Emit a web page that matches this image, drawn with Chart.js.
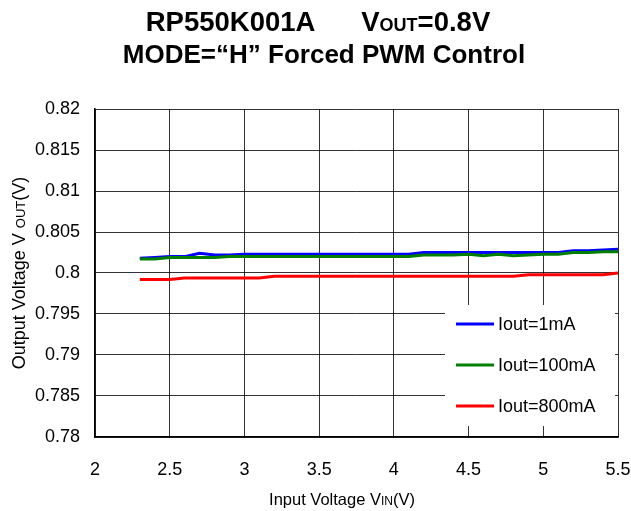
<!DOCTYPE html>
<html>
<head>
<meta charset="utf-8">
<script src="https://cdn.jsdelivr.net/npm/chart.js@4.4.1/dist/chart.umd.min.js"></script>
<style>
  html, body { margin: 0; padding: 0; background: #fff; }
  #wrap { position: relative; width: 631px; height: 511px; }
</style>
</head>
<body>
<div id="wrap"><canvas id="grafica" width="631" height="511"></canvas></div>
<script>
// datos
var vin = [2.3, 2.4, 2.5, 2.6, 2.7, 2.8, 2.9, 3.0, 3.1, 3.2, 3.3, 3.4, 3.5, 3.6, 3.7, 3.8, 3.9, 4.0,
           4.1, 4.2, 4.3, 4.4, 4.5, 4.6, 4.7, 4.8, 4.9, 5.0, 5.1, 5.2, 5.3, 5.4, 5.5];

var iout1mA = [0.8018, 0.8019, 0.8020, 0.8020, 0.8024, 0.8022, 0.8022, 0.8023, 0.8023, 0.8023, 0.8023,
               0.8023, 0.8023, 0.8023, 0.8023, 0.8023, 0.8023, 0.8023, 0.8023, 0.8025, 0.8025, 0.8025,
               0.8025, 0.8025, 0.8025, 0.8025, 0.8025, 0.8025, 0.8025, 0.8027, 0.8027, 0.8028, 0.8029];

var iout100mA = [0.8017, 0.8017, 0.8019, 0.8019, 0.8019, 0.8019, 0.8020, 0.8020, 0.8020, 0.8020, 0.8020,
                 0.8020, 0.8020, 0.8020, 0.8020, 0.8020, 0.8020, 0.8020, 0.8020, 0.8022, 0.8022, 0.8022,
                 0.8023, 0.8021, 0.8023, 0.8021, 0.8022, 0.8023, 0.8023, 0.8025, 0.8025, 0.8026, 0.8026];

var iout800mA = [0.7992, 0.7992, 0.7992, 0.7994, 0.7994, 0.7994, 0.7994, 0.7994, 0.7994, 0.7996, 0.7996,
                 0.7996, 0.7996, 0.7996, 0.7996, 0.7996, 0.7996, 0.7996, 0.7996, 0.7996, 0.7996, 0.7996,
                 0.7996, 0.7996, 0.7996, 0.7996, 0.7998, 0.7998, 0.7998, 0.7998, 0.7998, 0.7998, 0.8000];

var etiquetas = ['Iout=1mA', 'Iout=100mA', 'Iout=800mA'];
var colores = ['#0000ff', '#008000', '#ff0000'];

var xMin = 2, xMax = 5.5, xPaso = 0.5;
var yMin = 0.78, yMax = 0.82, yPaso = 0.005;

var FUENTE = '"Liberation Sans", Arial, sans-serif';

function puntos(ys) {
    return vin.map(function (x, i) { return { x: x, y: ys[i] }; });
}

// dibuja una serie de trozos de texto (normal / subindice) en linea
function textoMixto(ctx, partes, cx, y) {
    var total = 0;
    partes.forEach(function (p) { ctx.font = p.font; total += ctx.measureText(p.t).width; });
    var x = cx - total / 2;
    ctx.textAlign = 'left';
    partes.forEach(function (p) {
        ctx.font = p.font;
        ctx.fillText(p.t, x, y);
        x += ctx.measureText(p.t).width;
    });
}

var textosPlugin = {
    id: 'textos',
    afterDraw: function (chart) {
        var ctx = chart.ctx;
        var area = chart.chartArea;
        ctx.save();
        ctx.fillStyle = '#000';
        ctx.textBaseline = 'alphabetic';

        // titulo
        var tb1 = 'bold 27.5px ' + FUENTE;
        var ts1 = 'bold 18px ' + FUENTE;
        textoMixto(ctx, [
            { t: 'RP550K001A      V', font: tb1 },
            { t: 'OUT', font: ts1 },
            { t: '=0.8V', font: tb1 }
        ], 318, 31);
        textoMixto(ctx, [{ t: 'MODE=\u201cH\u201d Forced PWM Control', font: 'bold 26px ' + FUENTE }], 324, 63);

        // titulo eje x
        textoMixto(ctx, [
            { t: 'Input Voltage V', font: '16.5px ' + FUENTE },
            { t: 'IN', font: '12px ' + FUENTE },
            { t: '(V)', font: '16.5px ' + FUENTE }
        ], 342, 505);

        // titulo eje y
        ctx.save();
        ctx.translate(25, (area.top + area.bottom) / 2);
        ctx.rotate(-Math.PI / 2);
        textoMixto(ctx, [
            { t: 'Output Voltage V ', font: '18px ' + FUENTE },
            { t: 'OUT', font: '13px ' + FUENTE },
            { t: '(V)', font: '18px ' + FUENTE }
        ], 0, 0);
        ctx.restore();

        // leyenda con fondo blanco
        var lx = 445, ly = 305, lw = 170, lh = 121;
        ctx.fillStyle = '#fff';
        ctx.fillRect(lx, ly, lw, lh);
        chart.data.datasets.forEach(function (ds, i) {
            var yy = 324 + i * 41;
            ctx.strokeStyle = ds.borderColor;
            ctx.lineWidth = 3;
            ctx.beginPath();
            ctx.moveTo(456, yy);
            ctx.lineTo(494, yy);
            ctx.stroke();
            ctx.fillStyle = '#000';
            ctx.font = '18px ' + FUENTE;
            ctx.textBaseline = 'middle';
            ctx.textAlign = 'left';
            ctx.fillText(ds.label, 498, yy + 1);
        });
        ctx.restore();
    }
};

function numero(v) { return +v.toFixed(3) + ''; }

new Chart(document.getElementById('grafica'), {
    type: 'line',
    data: {
        datasets: [
            { label: etiquetas[0], data: puntos(iout1mA), borderColor: colores[0], order: 3 },
            { label: etiquetas[1], data: puntos(iout100mA), borderColor: colores[1], order: 2 },
            { label: etiquetas[2], data: puntos(iout800mA), borderColor: colores[2], order: 1 }
        ]
    },
    options: {
        responsive: false,
        animation: false,
        devicePixelRatio: 1,
        layout: { padding: { top: 109, right: 13, left: 0, bottom: 0 } },
        elements: {
            line: { borderWidth: 3, tension: 0, fill: false },
            point: { radius: 0 }
        },
        plugins: {
            legend: { display: false },
            title: { display: false },
            tooltip: { enabled: false }
        },
        scales: {
            x: {
                type: 'linear',
                min: xMin,
                max: xMax,
                afterFit: function (s) { s.height = 74; s.paddingLeft = 0; s.paddingRight = 0; },
                grid: { color: 'rgba(0,0,0,0.8)', lineWidth: 1, tickLength: 0 },
                border: { color: '#000', width: 1.5 },
                ticks: {
                    stepSize: xPaso,
                    color: '#000',
                    padding: 22,
                    maxRotation: 0,
                    font: { family: FUENTE, size: 18 },
                    callback: numero
                }
            },
            y: {
                type: 'linear',
                min: yMin,
                max: yMax,
                afterFit: function (s) { s.width = 95; s.paddingTop = 0; s.paddingBottom = 0; },
                grid: { color: 'rgba(0,0,0,0.8)', lineWidth: 1, tickLength: 0 },
                border: { color: '#000', width: 1.5 },
                ticks: {
                    stepSize: yPaso,
                    color: '#000',
                    padding: 15,
                    font: { family: FUENTE, size: 18 },
                    callback: numero
                }
            }
        }
    },
    plugins: [textosPlugin]
});
</script>
</body>
</html>
